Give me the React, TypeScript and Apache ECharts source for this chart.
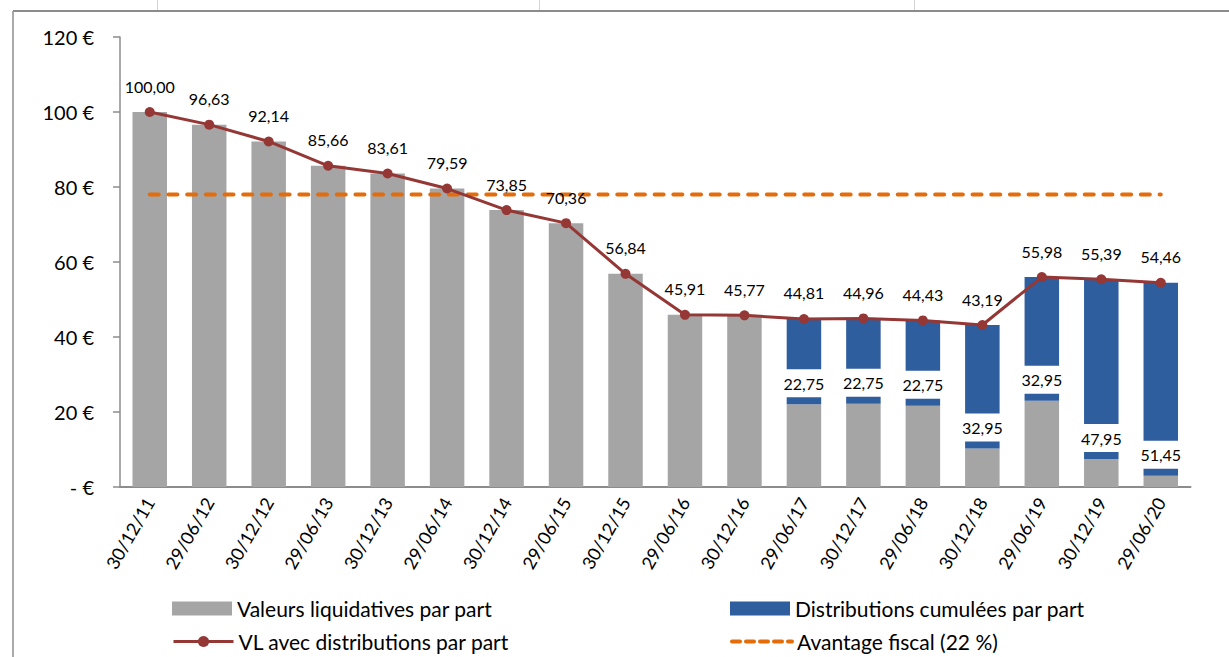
import React, { useEffect, useRef } from "react";
import * as echarts from "echarts";

const categories = [
  "30/12/11", "29/06/12", "30/12/12", "29/06/13", "30/12/13", "29/06/14",
  "30/12/14", "29/06/15", "30/12/15", "29/06/16", "30/12/16", "29/06/17",
  "30/12/17", "29/06/18", "30/12/18", "29/06/19", "30/12/19", "29/06/20",
];
const valeursLiquidatives = [
  100.0, 96.63, 92.14, 85.66, 83.61, 79.59, 73.85, 70.36, 56.84, 45.91, 45.77,
  22.06, 22.21, 21.68, 10.24, 23.03, 7.44, 3.01,
];
const distributionsCumulees = [
  null, null, null, null, null, null, null, null, null, null, null,
  22.75, 22.75, 22.75, 32.95, 32.95, 47.95, 51.45,
];
const vlAvecDistributions = [
  100.0, 96.63, 92.14, 85.66, 83.61, 79.59, 73.85, 70.36, 56.84, 45.91, 45.77,
  44.81, 44.96, 44.43, 43.19, 55.98, 55.39, 54.46,
];
const avantageFiscal = [
  78, 78, 78, 78, 78, 78, 78, 78, 78, 78, 78, 78, 78, 78, 78, 78, 78, 78,
];
const yTicks = { min: 0, max: 120, interval: 20 };

const FONT = "Lato, 'Open Sans', sans-serif";
const fmt = (v: number) => v.toFixed(2).replace(".", ",");

export default function App() {
  const ref = useRef<HTMLDivElement>(null);
  useEffect(() => {
    if (!ref.current) return;
    const chart = echarts.init(ref.current, null, { renderer: "svg" });
    const legendText = { fontFamily: FONT, fontSize: 21, color: "#000" };
    chart.setOption({
      animation: false,
      backgroundColor: "#fff",
      textStyle: { fontFamily: FONT },
      grid: { left: 120, right: 38.5, top: 37, bottom: 170 },
      graphic: [
        { type: "line", shape: { x1: 13, y1: 11, x2: 1229, y2: 11 }, style: { stroke: "#8c8c8c", lineWidth: 2 }, silent: true },
        { type: "line", shape: { x1: 13, y1: 11, x2: 13, y2: 657 }, style: { stroke: "#8c8c8c", lineWidth: 1.5 }, silent: true },
        { type: "line", shape: { x1: 157.5, y1: 0, x2: 157.5, y2: 10 }, style: { stroke: "#d4d4d4", lineWidth: 1 }, silent: true },
        { type: "line", shape: { x1: 539.5, y1: 0, x2: 539.5, y2: 10 }, style: { stroke: "#d4d4d4", lineWidth: 1 }, silent: true },
        { type: "line", shape: { x1: 914.5, y1: 0, x2: 914.5, y2: 10 }, style: { stroke: "#d4d4d4", lineWidth: 1 }, silent: true },
      ],
      legend: [
        { data: [{ name: "Valeurs liquidatives par part", icon: "rect" }], left: 167, top: 593, itemWidth: 60, itemHeight: 14, textStyle: legendText },
        { data: [{ name: "Distributions cumulées par part", icon: "rect" }], left: 725, top: 593, itemWidth: 60, itemHeight: 14, textStyle: legendText },
        { data: [{ name: "VL avec distributions par part", lineStyle: { width: 3 } }], left: 167, top: 626, itemWidth: 60, itemHeight: 14, textStyle: legendText },
        {
          data: [{ name: "Avantage fiscal (22 %)", itemStyle: { opacity: 0 }, lineStyle: { width: 4, type: [8, 6], cap: "round" } }],
          left: 725, top: 626, itemWidth: 60, itemHeight: 14, textStyle: legendText,
        },
      ],
      xAxis: {
        type: "category",
        data: categories,
        axisLine: { lineStyle: { color: "#8c8c8c", width: 2 } },
        axisTick: { show: false },
        axisLabel: { rotate: 60, fontSize: 18, color: "#000", fontFamily: FONT, margin: 12, interval: 0 },
      },
      yAxis: {
        type: "value",
        min: yTicks.min,
        max: yTicks.max,
        interval: yTicks.interval,
        splitLine: { show: false },
        axisLine: { show: true, lineStyle: { color: "#8c8c8c", width: 1.5 } },
        axisTick: { show: true, length: 7, lineStyle: { color: "#8c8c8c", width: 1.5 } },
        axisLabel: {
          fontSize: 20,
          color: "#000",
          fontFamily: FONT,
          margin: 26,
          formatter: (v: number) => (v === 0 ? "- €" : `${v} €`),
        },
      },
      series: [
        {
          name: "Valeurs liquidatives par part",
          type: "bar",
          stack: "a",
          data: valeursLiquidatives,
          barCategoryGap: "42%",
          itemStyle: { color: "#a5a5a5" },
          z: 2,
        },
        {
          name: "Distributions cumulées par part",
          type: "bar",
          stack: "a",
          data: distributionsCumulees,
          itemStyle: { color: "#2f5e9e" },
          z: 2,
          label: {
            show: true,
            position: "insideBottom",
            distance: 7,
            backgroundColor: "#fff",
            padding: [6, 3],
            color: "#000",
            fontSize: 16,
            fontFamily: FONT,
            formatter: (p: any) => fmt(p.value),
          },
        },
        {
          name: "Avantage fiscal (22 %)",
          type: "line",
          data: avantageFiscal,
          symbol: "none",
          lineStyle: { color: "#e46c0a", width: 4, type: [9, 9.7], cap: "round" },
          itemStyle: { color: "#e46c0a" },
          z: 3,
        },
        {
          name: "VL avec distributions par part",
          type: "line",
          data: vlAvecDistributions,
          symbol: "circle",
          symbolSize: 10,
          lineStyle: { color: "#953735", width: 3 },
          itemStyle: { color: "#953735" },
          z: 4,
          label: {
            show: true,
            position: "top",
            distance: 13,
            color: "#000",
            fontSize: 16,
            fontFamily: FONT,
            formatter: (p: any) => fmt(p.value),
          },
        },
      ],
    });
    return () => chart.dispose();
  }, []);
  return (
    <div
      ref={ref}
      style={{ position: "fixed", left: 0, top: 0, width: 1229, height: 657 }}
    />
  );
}
